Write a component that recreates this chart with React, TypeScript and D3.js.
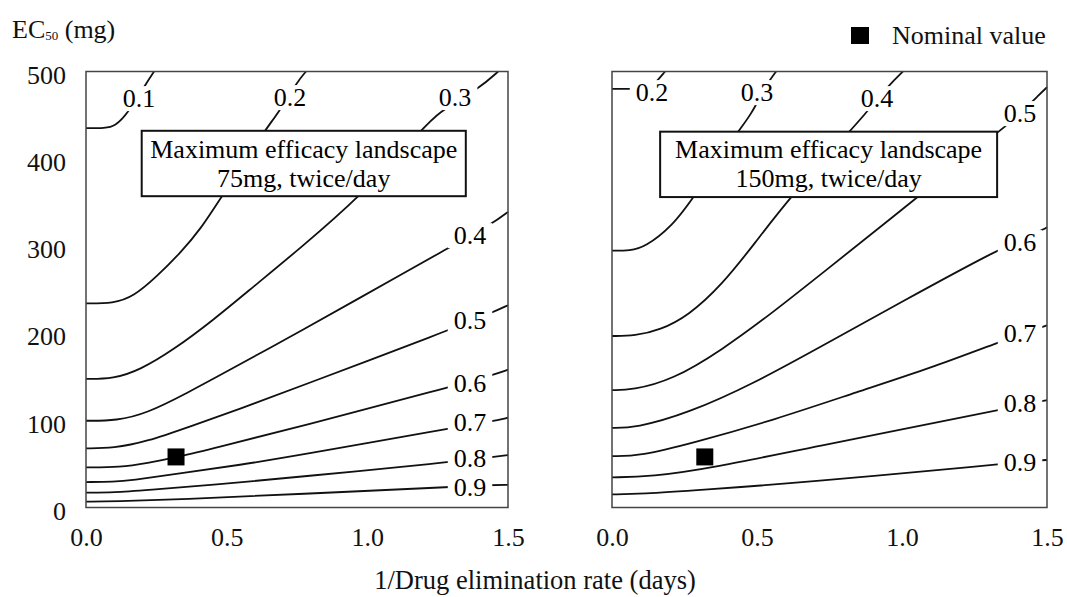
import React, { useEffect, useRef } from "react";
import * as d3 from "d3";

// contour levels and traced contour lines, x = 1/elimination rate (days), y = EC50 (mg)
const leftLevels = ["0.1", "0.2", "0.3", "0.4", "0.5", "0.6", "0.7", "0.8", "0.9"];
const leftLines: [number, number][][] = [
  [[0, 435], [0.068, 435], [0.103, 437], [0.149, 452], [0.217, 488], [0.242, 500]],
  [[0, 234], [0.097, 234], [0.168, 241.7], [0.251, 264.7], [0.334, 291.5], [0.405, 318.2], [0.482, 356.4], [0.636, 433], [0.683, 452], [0.75, 488], [0.782, 500]],
  [[0, 147.4], [0.097, 147.4], [0.192, 157.7], [0.31, 180.6], [0.453, 215], [0.595, 253.2], [0.761, 297.2], [0.974, 356.4], [1.194, 433], [1.247, 452.4], [1.4, 481], [1.465, 500]],
  [[0, 99.5], [0.109, 99.5], [0.216, 108], [0.358, 131], [0.512, 158], [0.642, 181], [0.761, 202], [0.938, 234], [1.287, 297.5], [1.447, 326], [1.5, 339]],
  [[0, 67.9], [0.097, 67.9], [0.216, 75.5], [0.37, 93], [0.547, 113], [0.761, 139], [1.276, 201.6], [1.447, 224], [1.5, 232]],
  [[0, 46.1], [0.121, 46.1], [0.216, 50.7], [0.331, 58.3], [0.453, 67.9], [0.761, 92.7], [1.276, 136.7], [1.447, 152], [1.5, 158]],
  [[0, 29.2], [0.1, 29.4], [0.156, 30.7], [0.334, 39.2], [0.547, 48.7], [0.761, 60.2], [1.276, 89.7], [1.447, 99], [1.5, 103]],
  [[0, 17], [0.1, 17.3], [0.216, 20.1], [0.453, 25.8], [0.761, 35.3], [1.276, 51.4], [1.447, 58], [1.5, 60]],
  [[0, 6.7], [0.1, 6.8], [0.334, 9.4], [0.761, 15.5], [1.276, 23.2], [1.447, 26], [1.5, 26]],
];
const leftLabelAt: [number, number][] = [
  [0.188, 469.6], [0.725, 470.8], [1.312, 470.8], [1.365, 312.5], [1.365, 215],
  [1.365, 142.8], [1.365, 98], [1.365, 56.8], [1.365, 23.5],
];

const rightLevels = ["0.2", "0.3", "0.4", "0.5", "0.6", "0.7", "0.8", "0.9"];
const rightLines: [number, number][][] = [
  [[0, 480], [0.062, 480], [0.114, 481], [0.138, 483.6], [0.152, 488], [0.183, 500]],
  [[0, 294.5], [0.062, 294.5], [0.114, 298.7], [0.206, 322], [0.283, 356], [0.434, 432], [0.476, 448], [0.534, 486], [0.566, 500]],
  [[0, 196.7], [0.079, 196.7], [0.166, 203.6], [0.262, 219.6], [0.379, 255.2], [0.493, 303.3], [0.614, 356], [0.821, 432], [0.862, 447], [0.959, 486], [1.003, 500]],
  [[0, 134.7], [0.069, 134.7], [0.207, 146], [0.379, 180.6], [0.552, 223], [0.717, 266.6], [1.055, 356], [1.328, 430.6], [1.366, 438.6], [1.483, 476.5], [1.5, 482]],
  [[0, 91.2], [0.079, 91.2], [0.262, 108], [0.493, 143], [0.717, 184], [1.0, 236], [1.331, 296], [1.483, 318], [1.5, 321.5]],
  [[0, 59], [0.097, 59], [0.279, 74], [0.555, 100], [0.85, 133], [1.1, 160], [1.328, 189], [1.483, 207], [1.5, 209]],
  [[0, 34.6], [0.131, 35], [0.362, 46.4], [0.672, 68], [1.303, 109.5], [1.483, 122], [1.5, 123]],
  [[0, 15.1], [0.1, 15.4], [0.303, 20], [0.672, 29], [1.31, 48.7], [1.483, 54.5], [1.5, 54.5]],
];
const rightLabelAt: [number, number][] = [
  [0.138, 476.5], [0.5, 476.5], [0.914, 469.6], [1.407, 452.4], [1.407, 304.5],
  [1.407, 200.1], [1.407, 119.8], [1.407, 52.2],
];

const nominal: [number, number] = [0.32, 58];
const xTicks = [0, 0.5, 1.0, 1.5];
const yTicks = [0, 100, 200, 300, 400, 500];
const leftTitle = ["Maximum efficacy landscape", "75mg, twice/day"];
const rightTitle = ["Maximum efficacy landscape", "150mg, twice/day"];
const leftBox: [number, number, number, number] = [0.198, 1.35, 357, 432];
const rightBox: [number, number, number, number] = [0.166, 1.328, 356, 431];

const W = 1067;
const H = 597;
const FONT = "'Liberation Serif', 'Times New Roman', serif";

function drawPanel(svg: any, opt: any) {
  const x = d3.scaleLinear().domain([0, 1.5]).range([opt.x0, opt.x1]);
  const y = d3.scaleLinear().domain([0, 500]).range([507.5, 71.5]);
  const g = svg.append("g");

  const line = d3
    .line<[number, number]>()
    .x((d) => x(d[0]))
    .y((d) => y(d[1]))
    .curve(d3.curveBasis);

  g.selectAll("path.contour")
    .data(opt.lines)
    .enter()
    .append("path")
    .attr("class", "contour")
    .attr("d", line)
    .attr("fill", "none")
    .attr("stroke", "#111")
    .attr("stroke-width", 1.8);

  // inline labels: white patch under each level label
  opt.levels.forEach((lv: string, i: number) => {
    const [lx, ly] = opt.labels[i];
    const t = g
      .append("text")
      .attr("x", x(lx))
      .attr("y", y(ly))
      .attr("dy", "0.35em")
      .attr("text-anchor", "middle")
      .style("font-family", FONT)
      .style("font-size", "26px")
      .text(lv);
    const bb = t.node().getBBox();
    g.insert("rect", () => t.node())
      .attr("x", bb.x - 6)
      .attr("y", bb.y + 2)
      .attr("width", bb.width + 12)
      .attr("height", bb.height - 4)
      .attr("fill", "white");
  });

  // title box
  const [bx0, bx1, by0, by1] = opt.box;
  g.append("rect")
    .attr("x", x(bx0))
    .attr("y", y(by1))
    .attr("width", x(bx1) - x(bx0))
    .attr("height", y(by0) - y(by1))
    .attr("fill", "white")
    .attr("stroke", "#111")
    .attr("stroke-width", 2);
  const cx = (x(bx0) + x(bx1)) / 2;
  const cy = (y(by0) + y(by1)) / 2;
  opt.title.forEach((s: string, i: number) => {
    g.append("text")
      .attr("x", cx)
      .attr("y", cy + (i === 0 ? -14.5 : 14.5))
      .attr("dy", "0.33em")
      .attr("text-anchor", "middle")
      .style("font-family", FONT)
      .style("font-size", "26px")
      .text(s);
  });

  // frame
  g.append("rect")
    .attr("x", opt.x0)
    .attr("y", 71.5)
    .attr("width", opt.x1 - opt.x0)
    .attr("height", 436)
    .attr("fill", "none")
    .attr("stroke", "#444")
    .attr("stroke-width", 1.5);

  // nominal value
  g.append("rect")
    .attr("x", x(nominal[0]) - 8.5)
    .attr("y", y(nominal[1]) - 8.5)
    .attr("width", 17)
    .attr("height", 17)
    .attr("fill", "#000");

  const xAxis = g
    .append("g")
    .attr("transform", "translate(0,507.5)")
    .call(d3.axisBottom(x).tickValues(xTicks).tickSize(0).tickPadding(20).tickFormat(d3.format(".1f")));
  xAxis.select(".domain").remove();
  xAxis.selectAll("text").style("font-family", FONT).style("font-size", "26px").attr("fill", "#111");

  if (opt.yAxis) {
    const yAxis = g
      .append("g")
      .attr("transform", "translate(" + opt.x0 + ",0)")
      .call(d3.axisLeft(y).tickValues(yTicks).tickSize(0).tickPadding(20));
    yAxis.select(".domain").remove();
    yAxis
      .selectAll("text")
      .attr("dy", "0.45em")
      .style("font-family", FONT)
      .style("font-size", "26px")
      .attr("fill", "#111");
  }
}

export default function App() {
  const ref = useRef<SVGSVGElement>(null);

  useEffect(() => {
    document.body.style.margin = "0";
    const svg = d3.select(ref.current);
    svg.selectAll("*").remove();

    svg.append("rect").attr("width", W).attr("height", H).attr("fill", "white");

    drawPanel(svg, { x0: 86, x1: 508, lines: leftLines, levels: leftLevels, labels: leftLabelAt, title: leftTitle, box: leftBox, yAxis: true });
    drawPanel(svg, { x0: 612, x1: 1047, lines: rightLines, levels: rightLevels, labels: rightLabelAt, title: rightTitle, box: rightBox, yAxis: false });

    // y axis title with subscript
    const yt = svg
      .append("text")
      .attr("x", 12)
      .attr("y", 38)
      .style("font-family", FONT)
      .style("font-size", "26px")
      .attr("fill", "#111");
    yt.append("tspan").text("EC");
    yt.append("tspan").attr("dy", 2).style("font-size", "13px").text("50");
    yt.append("tspan").attr("dy", -2).text(" (mg)");

    // x axis title
    svg
      .append("text")
      .attr("x", 535)
      .attr("y", 589)
      .attr("text-anchor", "middle")
      .style("font-family", FONT)
      .style("font-size", "26.5px")
      .attr("fill", "#111")
      .text("1/Drug elimination rate (days)");

    // legend
    svg.append("rect").attr("x", 851).attr("y", 27).attr("width", 18).attr("height", 17).attr("fill", "#000");
    svg
      .append("text")
      .attr("x", 892)
      .attr("y", 43.5)
      .style("font-family", FONT)
      .style("font-size", "26px")
      .attr("fill", "#111")
      .text("Nominal value");
  }, []);

  return <svg ref={ref} width={W} height={H} style={{ display: "block" }}></svg>;
}
